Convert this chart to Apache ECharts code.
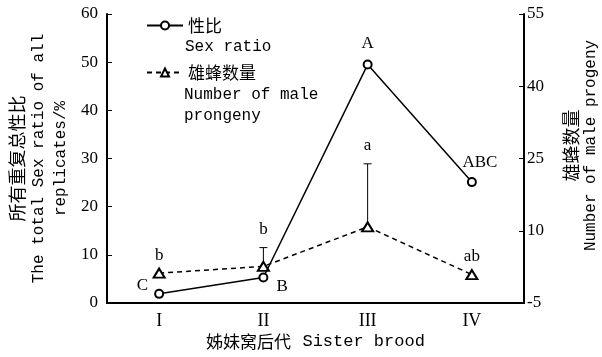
<!DOCTYPE html>
<html>
<head>
<meta charset="utf-8">
<script src="https://cdn.jsdelivr.net/npm/echarts@6/dist/echarts.min.js"></script>
<style>
  html, body { margin: 0; padding: 0; background: #fff; }
  #chart { width: 602px; height: 357px; }
</style>
</head>
<body>
<div id="chart"></div>
<script>
// 姊妹窝后代
var broods = ['I', 'II', 'III', 'IV']
// 性比 (%) 左轴
var sexRatio = [1.9, 5.3, 49.5, 25.1]
var sexLetters = ['C', 'B', 'A', 'ABC']
// 雄蜂数量 右轴
var maleCount = [1.2, 2.6, 10.8, 0.9]
var maleUpper = [1.2, 6.5, 23.9, 0.9]
var maleLetters = ['b', 'b', 'a', 'ab']
// 刻度
var leftTicks = [0, 10, 20, 30, 40, 50, 60]
var rightTicks = [-5, 10, 25, 40, 55]

var serif = 'Liberation Serif'
var mono = 'Liberation Mono'
var cjk = 'Noto Sans CJK SC'

// 性比字母标注的位置
var sexLabelStyle = [
  { position: 'left', distance: 6, offset: [0, -8] },
  { position: 'right', distance: 8, offset: [0, 9] },
  { position: 'top', distance: 8, offset: [0, 0] },
  { position: 'top', distance: 6, offset: [8, 0] }
]

var chart = echarts.init(document.getElementById('chart'))

chart.setOption({
  animation: false,
  backgroundColor: '#fff',
  grid: { left: 107, right: 78, top: 14, bottom: 54, outerBoundsMode: 'none', containLabel: false },
  legend: {
    orient: 'vertical',
    left: 141,
    top: 12,
    itemWidth: 36,
    itemHeight: 10,
    itemGap: 30,
    data: ['性比', '雄蜂数量'],
    textStyle: { fontFamily: cjk, fontSize: 17, color: '#000' }
  },
  graphic: [
    { type: 'text', left: 185, top: 39, style: { text: 'Sex ratio', font: '16px ' + mono, fill: '#000' } },
    { type: 'text', left: 184, top: 87, style: { text: 'Number of male', font: '16px ' + mono, fill: '#000' } },
    { type: 'text', left: 184, top: 108, style: { text: 'prongeny', font: '16px ' + mono, fill: '#000' } }
  ],
  xAxis: {
    type: 'category',
    data: broods,
    boundaryGap: true,
    name: '{zh|姊妹窝后代} {en|Sister brood}',
    nameLocation: 'middle',
    nameGap: 30,
    nameMoveOverlap: false,
    nameTextStyle: {
      rich: {
        zh: { fontFamily: cjk, fontSize: 17, color: '#000', padding: [0, 8, 0, 0] },
        en: { fontFamily: mono, fontSize: 17, color: '#000' }
      }
    },
    axisLine: { lineStyle: { color: '#000', width: 2 } },
    axisTick: { inside: true, alignWithLabel: true, length: 5, lineStyle: { color: '#000' } },
    axisLabel: { margin: 9, fontFamily: serif, fontSize: 18, color: '#000' },
    splitLine: { show: false }
  },
  yAxis: [
    {
      type: 'value',
      min: 0,
      max: 60,
      interval: 10,
      name: '{zh|所有重复总性比}\n{en|The total Sex ratio of all}\n{en|replicates/%}',
      nameLocation: 'middle',
      nameRotate: 90,
      nameGap: 35,
      nameMoveOverlap: false,
      nameTextStyle: {
        align: 'center',
        rich: {
          zh: { fontFamily: cjk, fontSize: 18, lineHeight: 22, color: '#000' },
          en: { fontFamily: mono, fontSize: 16, lineHeight: 22, color: '#000' }
        }
      },
      axisLine: { show: true, lineStyle: { color: '#000', width: 2 } },
      axisTick: { show: true, inside: true, length: 5, lineStyle: { color: '#000' } },
      axisLabel: { margin: 9, fontFamily: serif, fontSize: 17, color: '#000', customValues: leftTicks },
      splitLine: { show: false }
    },
    {
      type: 'value',
      min: -5,
      max: 55,
      position: 'right',
      name: '{zh|雄蜂数量}\n{en|Number of male progeny}',
      nameLocation: 'middle',
      nameRotate: 90,
      nameGap: 38,
      nameMoveOverlap: false,
      nameTextStyle: {
        align: 'center',
        padding: [0, 0, 0, 26],
        rich: {
          zh: { fontFamily: cjk, fontSize: 18, lineHeight: 19, color: '#000' },
          en: { fontFamily: mono, fontSize: 16, lineHeight: 19, color: '#000' }
        }
      },
      axisLine: { show: true, lineStyle: { color: '#000', width: 2 } },
      axisTick: { show: true, inside: true, length: 5, customValues: rightTicks, lineStyle: { color: '#000' } },
      axisLabel: { margin: 3, fontFamily: serif, fontSize: 17, color: '#000', customValues: rightTicks },
      splitLine: { show: false }
    }
  ],
  series: [
    {
      name: '性比',
      type: 'line',
      yAxisIndex: 0,
      symbol: 'emptyCircle',
      symbolSize: 8,
      z: 3,
      lineStyle: { color: '#000', width: 1.5 },
      itemStyle: { color: '#000', borderWidth: 1.5 },
      data: sexRatio.map(function (v, i) {
        return {
          value: v,
          label: Object.assign({
            show: true,
            formatter: sexLetters[i],
            fontFamily: serif,
            fontSize: 17,
            color: '#000'
          }, sexLabelStyle[i])
        }
      })
    },
    {
      name: '雄蜂数量',
      type: 'line',
      yAxisIndex: 1,
      symbol: 'emptyTriangle',
      symbolSize: [11, 9],
      z: 2,
      lineStyle: { color: '#000', width: 1.5, type: [5, 4] },
      itemStyle: { color: '#000', borderWidth: 1.5 },
      data: maleCount
    },
    {
      // 误差线与字母标注
      type: 'custom',
      yAxisIndex: 1,
      z: 1,
      silent: true,
      data: maleCount.map(function (v, i) { return [i, v, maleUpper[i]] }),
      renderItem: function (params, api) {
        var i = api.value(0)
        var base = api.coord([i, api.value(1)])
        var top = api.coord([i, api.value(2)])
        var children = []
        if (top[1] < base[1] - 1) {
          children.push({
            type: 'line',
            shape: { x1: top[0], y1: base[1] - 4, x2: top[0], y2: top[1] },
            style: { stroke: '#000', lineWidth: 1 }
          })
          children.push({
            type: 'line',
            shape: { x1: top[0] - 4, y1: top[1], x2: top[0] + 4, y2: top[1] },
            style: { stroke: '#000', lineWidth: 1 }
          })
        }
        children.push({
          type: 'text',
          x: top[0],
          y: top[1] - 18,
          style: {
            text: maleLetters[i],
            font: '17px ' + serif,
            fill: '#000',
            align: 'center',
            verticalAlign: 'middle'
          }
        })
        return { type: 'group', children: children }
      }
    }
  ]
})
</script>
</body>
</html>
